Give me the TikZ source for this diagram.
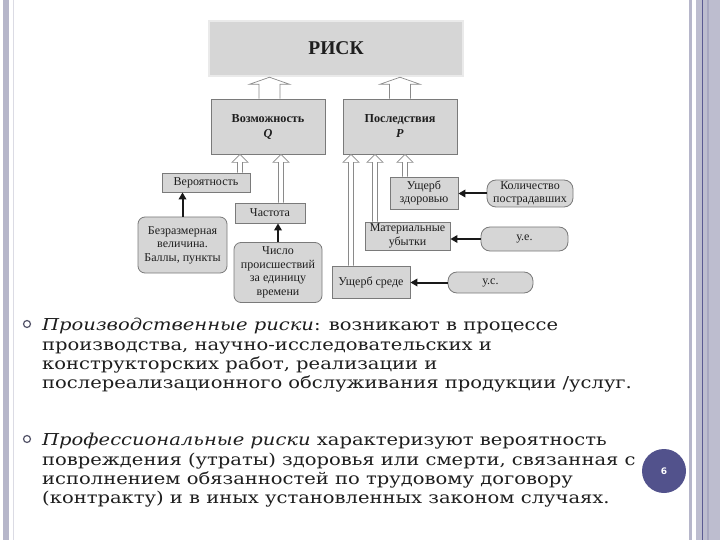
\documentclass[tikz,border=0pt]{standalone}
\usepackage{fontspec}
\setmainfont[FakeStretch=1.19]{DejaVu Serif}
\newfontfamily\tms{Liberation Serif}
\newfontfamily\snsb{DejaVu Sans}
\usetikzlibrary{arrows.meta,calc}
\definecolor{boxfill}{HTML}{D6D6D6}
\definecolor{boxline}{HTML}{7A7A7A}
\definecolor{arrline}{HTML}{8A8A8A}
\definecolor{txt}{HTML}{1E1E1E}
\definecolor{stripe}{HTML}{B6B6CA}
\definecolor{stripedark}{HTML}{5A5A92}
\definecolor{pagec}{HTML}{52528C}
\definecolor{bulc}{HTML}{55556A}
\tikzset{
 box/.style={draw=boxline, fill=boxfill, line width=0.8pt, align=center, inner sep=0.5pt,
   font=\tms\fontsize{12}{13.6}\selectfont, text=txt},
 rbox/.style={box, rounded corners=7pt},
 harrow/.style={draw=arrline, fill=white, line width=0.7pt, line join=miter},
 blk/.style={draw=black!90, line width=2pt, -{Triangle[length=7pt,width=7.5pt]}},
 btxt/.style={anchor=base west, inner sep=0pt, text=txt, font=\fontsize{16.4}{20}\selectfont},
 bul/.style={circle, draw=bulc, line width=1.2pt, minimum size=7pt, inner sep=0pt},
}
\newcommand\hollowarrow[6]{%
 \draw[harrow] let \p1=(#2.north), \p2=(#3.south) in
  (#1pt-#4pt,\y1) -- (#1pt-#4pt,\y2-#6pt) -- (#1pt-#5pt,\y2-#6pt) -- (#1pt,\y2)
  -- (#1pt+#5pt,\y2-#6pt) -- (#1pt+#4pt,\y2-#6pt) -- (#1pt+#4pt,\y1);}
\begin{document}
\begin{tikzpicture}[x=1pt,y=-1pt]
\useasboundingbox (0,0) rectangle (720,540);
\fill[white] (0,0) rectangle (720,540);
% slide frame
\fill[stripe] (3,0) rectangle (9,540);
\draw[stripe!50, line width=1pt] (13.5,0) -- (13.5,540);
\draw[stripe, line width=2.5pt] (690.5,0) -- (690.5,540);
\fill[stripe!90] (696,0) rectangle (720,540);
\draw[stripedark, line width=1pt] (702.5,0) -- (702.5,540);
\fill[stripe!120] (707,0) rectangle (709,540);
% main boxes
\node[box, draw=boxfill!50, line width=2.5pt, minimum width=254pt, minimum height=55pt,
  font=\tms\bfseries\fontsize{19.5}{20}\selectfont] (risk) at (336,48.5) {РИСК};
\node[box, minimum width=114pt, minimum height=55pt, font=\tms\bfseries\fontsize{12.2}{15}\selectfont]
  (voz) at (268,126.5) {Возможность\\\textit{Q}};
\node[box, minimum width=114pt, minimum height=55pt, font=\tms\bfseries\fontsize{12.2}{15}\selectfont]
  (posl) at (400,126.5) {Последствия\\\textit{P}};
% left side
\node[box, minimum width=88pt, minimum height=19pt] (ver) at (206,182.5) {Вероятность};
\node[box, minimum width=70pt, minimum height=20pt] (chas) at (270,213) {Частота};
\node[rbox, minimum width=89pt, minimum height=56pt] (bez) at (182.5,245)
  {Безразмерная\\величина.\\Баллы, пункты};
\node[rbox, minimum width=88pt, minimum height=60pt] (chis) at (278,272.5)
  {Число\\происшествий\\за единицу\\времени};
% right side
\node[box, minimum width=68pt, minimum height=32pt] (uz) at (424,193) {Ущерб\\здоровью};
\node[rbox, rounded corners=9pt, minimum width=86pt, minimum height=27pt] (kol) at (530,193.5)
  {Количество\\пострадавших};
\node[box, minimum width=85pt, minimum height=28pt] (mat) at (407.5,236) {Материальные\\убытки};
\node[rbox, rounded corners=9pt, minimum width=87pt, minimum height=24pt] (ue) at (524.5,239) {у.е.};
\node[box, minimum width=78pt, minimum height=32pt] (sr) at (371,282) {Ущерб среде};
\node[rbox, rounded corners=9pt, minimum width=85pt, minimum height=21pt] (us) at (490.5,282.5) {у.с.};
% hollow arrows
\hollowarrow{269.5}{voz}{risk}{10.5}{20}{7}
\hollowarrow{400}{posl}{risk}{10.5}{20}{7}
\hollowarrow{240}{ver}{voz}{2.5}{8}{8}
\hollowarrow{281}{chas}{voz}{2.5}{8}{8}
\hollowarrow{351}{sr}{posl}{2.5}{8}{8}
\hollowarrow{375}{mat}{posl}{2.5}{8}{8}
\hollowarrow{405}{uz}{posl}{2.5}{8}{8}
% black arrows
\draw[blk] (bez.north) -- (bez.north |- ver.south);
\draw[blk] (chis.north) -- (chis.north |- chas.south);
\draw[blk] (kol.west) -- (kol.west -| uz.east);
\draw[blk] (ue.west) -- (ue.west -| mat.east);
\draw[blk] (us.west) -- (us.west -| sr.east);
% bullets
\node[bul] (bu1) at (27,324) {};
\node[btxt] (a1) at (42,330.7) {\textit{Производственные риски}: возникают в процессе};
\node[btxt] (a2) at (42,350.1) {производства, научно-исследовательских и};
\node[btxt] (a3) at (42,369.5) {конструкторских работ, реализации и};
\node[btxt] (a4) at (42,388.9) {послереализационного обслуживания продукции /услуг.};
\node[bul] (bu2) at (27,439) {};
\node[btxt] (b1) at (42,445.7) {\textit{Профессиональные риски} характеризуют вероятность};
\node[btxt] (b2) at (42,465.1) {повреждения (утраты) здоровья или смерти, связанная с};
\node[btxt] (b3) at (42,484.5) {исполнением обязанностей по трудовому договору};
\node[btxt] (b4) at (42,503.9) {(контракту) и в иных установленных законом случаях.};
% page number
\node[circle, fill=pagec, minimum size=44pt, inner sep=0pt, text=white,
  font=\snsb\bfseries\fontsize{9}{10}\selectfont] (pg) at (664,471) {6};
\end{tikzpicture}
\end{document}
